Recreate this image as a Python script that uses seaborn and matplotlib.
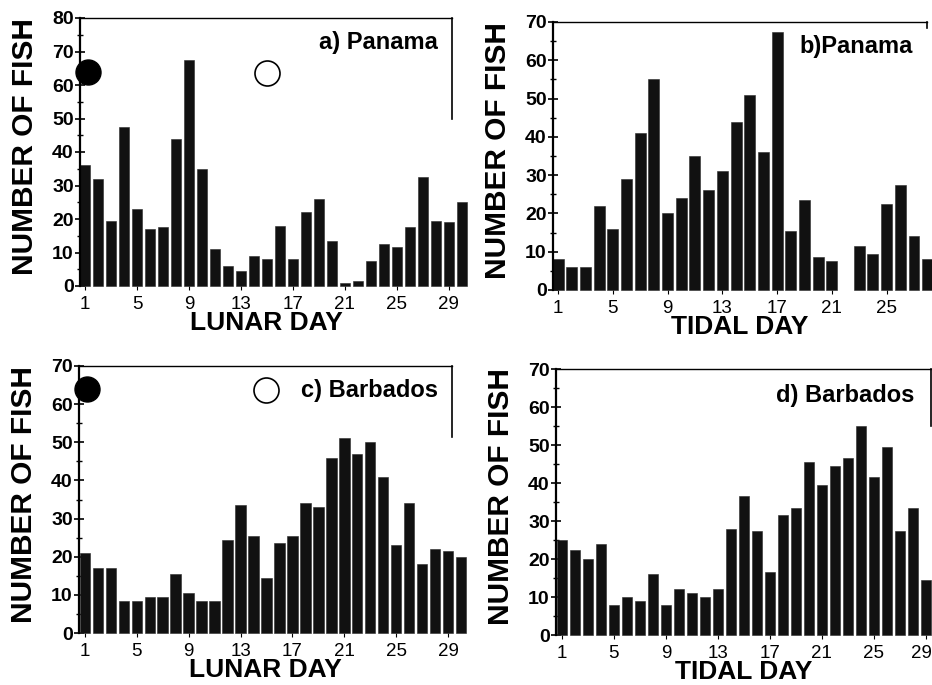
import matplotlib
matplotlib.use("Agg")
import matplotlib.pyplot as plt
import matplotlib.transforms as mtrans
import seaborn as sns
import pandas as pd
import numpy as np

sns.set_theme(style="white")
plt.rcParams['font.family'] = ['Liberation Sans', 'DejaVu Sans']
plt.rcParams['text.color'] = 'black'
plt.rcParams['axes.labelcolor'] = 'black'
plt.rcParams['xtick.color'] = 'black'
plt.rcParams['ytick.color'] = 'black'

# ---- data ----
lunar_days = list(range(1, 31))
panama_lunar = [36, 32, 19.5, 47.5, 23, 17, 17.5, 44, 67.5, 35, 11, 6, 4.5, 9, 8, 18, 8, 22, 26, 13.5,
                1, 1.5, 7.5, 12.5, 11.5, 17.5, 32.5, 19.5, 19, 25]
barbados_lunar = [21, 17, 17, 8.5, 8.5, 9.5, 9.5, 15.5, 10.5, 8.5, 8.5, 24.5, 33.5, 25.5, 14.5, 23.5,
                  25.5, 34, 33, 46, 51, 47, 50, 41, 23, 34, 18, 22, 21.5, 20]
panama_tidal_days = [1, 2, 3, 4, 5, 6, 7, 8, 9, 10, 11, 12, 13, 14, 15, 16, 17, 18, 19, 20, 21,
                     23, 24, 25, 26, 27, 28]
panama_tidal = [8, 6, 6, 22, 16, 29, 41, 55, 20, 24, 35, 26, 31, 44, 51, 36, 67.5, 15.5, 23.5, 8.5, 7.5,
                11.5, 9.5, 22.5, 27.5, 14, 8]
tidal_days = list(range(1, 30))
barbados_tidal = [25, 22.5, 20, 24, 8, 10, 9, 16, 8, 12, 11, 10, 12, 28, 36.5, 27.5, 16.5, 31.5, 33.5,
                  45.5, 39.5, 44.5, 46.5, 55, 41.5, 49.5, 27.5, 33.5, 14.5]
xticks = [1, 5, 9, 13, 17, 21, 25, 29]
xticks_b = [1, 5, 9, 13, 17, 21, 25]

fig = plt.figure(figsize=(9.32, 6.85), dpi=100)
W, H = 932, 685

def make_ax(left, right, top, bottom):
    return fig.add_axes([left / W, (H - bottom) / H, (right - left) / W, (bottom - top) / H])

panels = [
    dict(box=(80, 452, 18, 286), days=lunar_days, vals=panama_lunar, ymax=80, xlim=(0.6, 29.25),
         xlabel="LUNAR DAY", title="a) Panama", rb=50, circles=True, ticks=xticks,
         tpos=(0.962, 0.952)),
    dict(box=(553, 927, 22, 290), days=panama_tidal_days, vals=panama_tidal, ymax=70, xlim=(0.63, 27.95),
         xlabel="TIDAL DAY", title="b)Panama", rb=68.5, circles=False, ticks=xticks_b,
         tpos=(0.963, 0.95)),
    dict(box=(79, 452, 366, 633), days=lunar_days, vals=barbados_lunar, ymax=70, xlim=(0.55, 29.3),
         xlabel="LUNAR DAY", title="c) Barbados", rb=51.5, circles=True, ticks=xticks,
         tpos=(0.962, 0.95)),
    dict(box=(556, 931, 369, 635), days=tidal_days, vals=barbados_tidal, ymax=70, xlim=(0.55, 29.4),
         xlabel="TIDAL DAY", title="d) Barbados", rb=55, circles=False, ticks=xticks,
         tpos=(0.955, 0.942)),
]

for i, p in enumerate(panels):
    ax = make_ax(*p['box'])
    df = pd.DataFrame({'day': p['days'], 'n': p['vals']})
    sns.barplot(data=df, x='day', y='n', native_scale=True, color='#111111', width=0.8,
                saturation=1, ax=ax, edgecolor='#2a2a2a', linewidth=0.4)
    for patch in ax.patches:
        patch.set_clip_on(False)
    ax.set_xlim(*p['xlim'])
    ax.set_ylim(0, p['ymax'])
    ax.set_yticks(np.arange(0, p['ymax'] + 1, 10))
    ax.set_yticks(np.arange(5, p['ymax'], 5), minor=True)
    ax.set_xticks(p['ticks'])
    ax.set_xticklabels([str(t) for t in p['ticks']], fontsize=13.5)
    for lab in ax.get_yticklabels():
        lab.set_fontsize(14)
        lab.set_fontweight('bold')
    ax.tick_params(axis='y', which='major', direction='inout', length=7, width=1.2, pad=1, left=True)
    ax.tick_params(axis='y', which='minor', direction='inout', length=4, width=1, left=True)
    ax.tick_params(axis='x', which='major', direction='out', length=3, width=0.8, pad=4, bottom=True)
    for s in ['left', 'top', 'right']:
        ax.spines[s].set_visible(True)
        ax.spines[s].set_color('black')
    ax.spines['left'].set_linewidth(1.6)
    ax.spines['top'].set_linewidth(1.0)
    ax.spines['right'].set_linewidth(1.2)
    ax.spines['right'].set_bounds(p['rb'], p['ymax'])
    ax.spines['bottom'].set_visible(False)
    ax.set_xlabel(p['xlabel'], fontsize=19, fontweight='bold', labelpad=-1)
    ax.set_ylabel("NUMBER OF FISH", fontsize=21.5, fontweight='bold')
    ax.yaxis.set_label_coords(-0.11, 0.52)
    ax.text(p['tpos'][0], p['tpos'][1], p['title'], transform=ax.transAxes, ha='right', va='top',
            fontsize=17, fontweight='bold')
    if p['circles']:
        ax.plot([1.2], [64], marker='o', markersize=18, color='black', clip_on=False, zorder=5)
        ax.plot([15], [63.6], marker='o', markersize=18, markerfacecolor='white',
                markeredgecolor='black', markeredgewidth=1.2, clip_on=False, zorder=5)
    if i == 3:
        lab = ax.get_xticklabels()[-1]
        lab.set_transform(lab.get_transform() + mtrans.ScaledTranslation(-0.04, 0, fig.dpi_scale_trans))
    ax.patch.set_alpha(0)

fig.savefig("out.png", dpi=100)
